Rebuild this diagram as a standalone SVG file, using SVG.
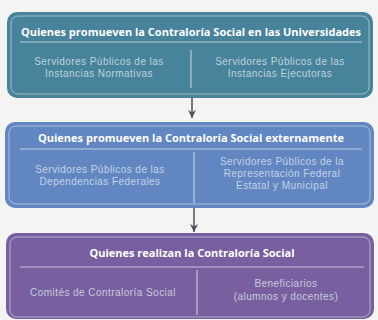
<svg xmlns="http://www.w3.org/2000/svg" width="378" height="320" viewBox="0 0 378 320">
<style>
.box{stroke:none}
.inner{fill:none;stroke:#e6eef2;stroke-opacity:0.55;stroke-width:1}
.sep{stroke:#e6eef2;stroke-opacity:0.7;stroke-width:1.2}
.title{font-family:"Open Sans","Noto Sans",sans-serif;font-size:11px;font-weight:bold;fill:#ffffff;text-anchor:middle}
.body{font-family:"Liberation Sans",Arial,sans-serif;font-size:10px;letter-spacing:0.45px;fill:#dfe7ee;fill-opacity:0.8;text-anchor:middle}
.conn{stroke:#4a5060;stroke-width:1.5;fill:none}
</style>
<defs>
<marker id="arr" markerWidth="10" markerHeight="8" refX="8" refY="4" orient="auto" markerUnits="userSpaceOnUse">
<path d="M0,0 L8,4 L0,8 L2.5,4 Z" fill="#4a5060"/>
</marker>
</defs>
<rect width="378" height="320" fill="#f4f4f2"/>
<g id="connectors">
<line class="conn" x1="192" y1="97" x2="192" y2="118" marker-end="url(#arr)"/>
<line class="conn" x1="194" y1="207" x2="194" y2="232" marker-end="url(#arr)"/>
</g>
<g id="node1">
<rect class="box" x="7" y="12" width="366" height="86" rx="10" fill="#47839a"/>
<rect class="inner" x="11" y="16" width="358" height="78" rx="7"/>
<text class="title" x="191" y="36">Quienes promueven la Contraloría Social en las Universidades</text>
<line class="sep" x1="20" y1="42" x2="362" y2="42"/>
<line class="sep" x1="191" y1="50" x2="191" y2="88"/>
<text class="body" x="99" y="65">Servidores Públicos de las</text>
<text class="body" x="99" y="77">Instancias Normativas</text>
<text class="body" x="280" y="65">Servidores Públicos de las</text>
<text class="body" x="280" y="77">Instancias Ejecutoras</text>
</g>
<g id="node2">
<rect class="box" x="5" y="122" width="369" height="86" rx="10" fill="#6286c2"/>
<rect class="inner" x="9" y="126" width="361" height="78" rx="7"/>
<text class="title" x="191" y="142">Quienes promueven la Contraloría Social externamente</text>
<line class="sep" x1="20" y1="149" x2="362" y2="149"/>
<line class="sep" x1="194" y1="152" x2="194" y2="203"/>
<text class="body" x="100" y="173">Servidores Públicos de las</text>
<text class="body" x="100" y="185">Dependencias Federales</text>
<text class="body" x="282" y="165">Servidores Públicos de la</text>
<text class="body" x="282" y="177">Representación Federal</text>
<text class="body" x="282" y="189">Estatal y Municipal</text>
</g>
<g id="node3">
<rect class="box" x="6" y="233" width="368" height="86" rx="10" fill="#785f9f"/>
<rect class="inner" x="10" y="237" width="360" height="80" rx="7"/>
<text class="title" x="192" y="257">Quienes realizan la Contraloría Social</text>
<line class="sep" x1="20" y1="267" x2="364" y2="267"/>
<line class="sep" x1="197" y1="270" x2="197" y2="315"/>
<text class="body" x="103" y="296">Comités de Contraloría Social</text>
<text class="body" x="286" y="287">Beneficiarios</text>
<text class="body" x="286" y="300">(alumnos y docentes)</text>
</g>
</svg>
